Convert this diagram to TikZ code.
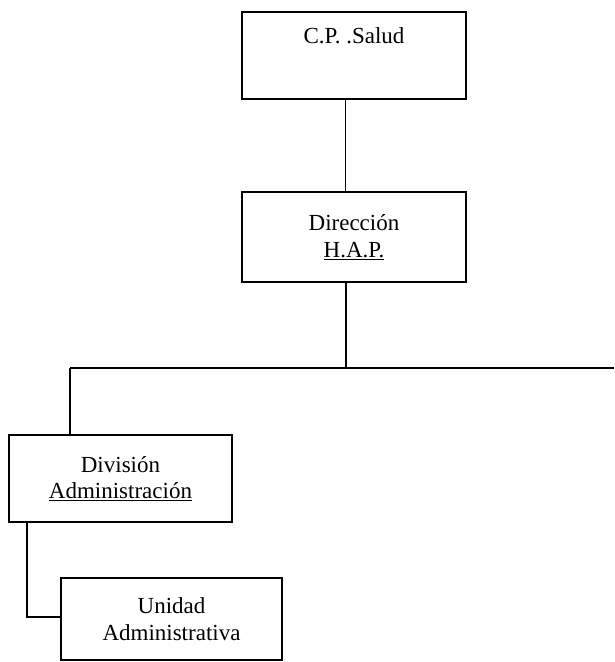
\documentclass[tikz,border=0pt]{standalone}
\usepackage{fontspec}
\setmainfont{Liberation Serif}
\begin{document}
\begin{tikzpicture}[x=1pt,y=-1pt,
  orgbox/.style={draw, line width=1.2pt, inner sep=0pt, align=center,
    font=\fontsize{23}{26.5}\selectfont},
  thinlink/.style={line width=0.8pt},
  link/.style={line width=1.4pt}]
\useasboundingbox[fill=white] (0,0) rectangle (614,662);
\node[orgbox, minimum width=224pt, minimum height=87pt, text height=15pt, text depth=40pt] (b1) at (354,55.5) {C.P. .Salud};
\node[orgbox, minimum width=224pt, minimum height=90pt] (b2) at (354,237) {Dirección\\\underline{H.A.P.}};
\node[orgbox, minimum width=223pt, minimum height=87pt] (b3) at (120.5,478.5) {División\\\underline{Administración}};
\node[orgbox, minimum width=221pt, minimum height=82pt] (b4) at (171.5,619) {Unidad\\Administrativa};
\coordinate (j) at (346,368);
\coordinate (L) at (70,368);
\coordinate (R) at (614,368);
\draw[thinlink] ([xshift=-9pt]b1.south) -- ([xshift=-9pt]b2.north);
\draw[link] ([xshift=-8pt]b2.south) -- (j);
\draw[link] (L) -- (R);
\draw[link] (L) -- (L |- b3.north);
\draw[link] ([xshift=-93.5pt]b3.south) |- ([yshift=2pt]b4.west);
\end{tikzpicture}
\end{document}
